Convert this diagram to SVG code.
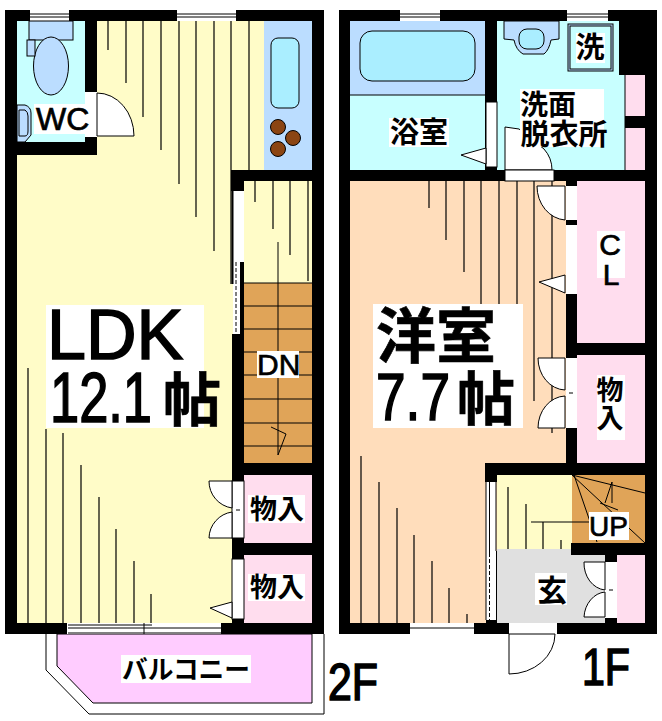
<svg xmlns="http://www.w3.org/2000/svg" width="662" height="721" viewBox="0 0 662 721">
<style>
.w{fill:#000}
.l{stroke:#000;stroke-width:1;fill:none}
.h{stroke:#000;stroke-width:1.2;fill:none}
.d{stroke:#000;stroke-width:1;fill:#fff}
.b{fill:#fff}
.j{font-family:"Noto Sans CJK JP","Liberation Sans",sans-serif;font-weight:700;fill:#000;text-anchor:middle}
.a{font-family:"Liberation Sans",Arial,sans-serif;fill:#000;stroke:#000;stroke-width:.7}
.k{stroke-width:1.6}
.c{font-family:"Noto Sans CJK JP",sans-serif;font-weight:700;font-size:58px;stroke-width:.6}
</style>
<rect width="662" height="721" fill="#fff"/>
<g id="balcony">
<path d="M46,634V670L89,714H324V634" fill="#fff" stroke="#000"/>
<path d="M57,634V666L93,703H312V634Z" fill="#ffccff" stroke="#000"/>
<rect class="b" x="121" y="655" width="130" height="28"/>
<text class="j" x="186" y="679" font-size="26" textLength="128" lengthAdjust="spacingAndGlyphs">バルコニー</text>
</g>
<g id="floor-2f">
<rect x="17" y="21" width="295" height="602" fill="#fffcc8"/>
<rect id="wc-floor" x="17" y="21" width="68" height="121" fill="#c8ffff"/>
<rect id="kitchen" x="264" y="21" width="48" height="149" fill="#bbddff"/>
<rect x="244" y="283" width="68" height="180" fill="#e0a458"/>
<rect x="244" y="475" width="68" height="68" fill="#ffddee"/>
<rect x="244" y="555" width="68" height="68" fill="#ffddee"/>
</g>
<g id="hatch-2f" class="h">
<path d="M108,21V50M126,21V83M143,21V117M161,21V150M179,21V184M196,21V217M214,21V251M231,21V284M249,21V170"/>
<path d="M255,181V202M273,181V229M290,181V255M308,181V281"/>
<path d="M28,368V623M46,429V623M63,433V623M81,465V623M99,497V623M116,529V623M134,561V623M151,594V623"/>
</g>
<g id="stairs-dn" class="l">
<path d="M244,283H312M244,306H312M244,329H312M244,352H312M244,375H312M244,399H312M244,423H312M244,446H312"/>
<path d="M278,242V455L286,434L271,427"/>
</g>
<g id="walls-2f" class="w">
<rect x="5" y="10" width="319" height="11"/>
<rect x="5" y="10" width="12" height="624"/>
<rect x="312" y="10" width="12" height="624"/>
<rect x="5" y="623" width="319" height="11"/>
<rect x="85" y="21" width="12" height="134"/>
<rect x="17" y="142" width="80" height="13"/>
<rect x="231" y="170" width="93" height="11"/>
<rect x="231" y="181" width="13" height="10"/>
<rect x="232" y="334" width="12" height="289"/>
<rect x="232" y="463" width="80" height="12"/>
<rect x="232" y="543" width="80" height="12"/>
</g>
<g id="windows-2f">
<rect class="b" x="30" y="10" width="39" height="11"/>
<path class="l" d="M30,14H69M30,17H69"/>
<rect class="b" x="177" y="10" width="59" height="11"/>
<path class="l" d="M177,14H236M177,17H236"/>
<rect class="b" x="67" y="623" width="154" height="11"/>
<path class="l" d="M68,625H152M68,628H221M68,633H221M144,623V634"/>
</g>
<g id="fixtures-2f">
<rect x="29" y="21" width="44" height="19" fill="#bbddff" stroke="#000"/>
<ellipse cx="51" cy="66" rx="17.500" ry="29" fill="#bbddff" stroke="#000"/>
<rect x="27" y="40" width="8" height="16" fill="#bbddff" stroke="#000"/>
<path d="M17,105H25Q31,107 31,113V135L25,142H17Z" fill="#bbddff" stroke="#000"/>
<path class="l" d="M19,110H25Q28,112 28,116V131Q28,136 25,136H19Z"/>
<rect x="271" y="38" width="28" height="70" rx="7" fill="#aaeeff" stroke="#000"/>
<g fill="#8b4513" stroke="#000"><circle cx="278" cy="127" r="7.500"/><circle cx="293" cy="138" r="7.500"/><circle cx="278" cy="149" r="7.500"/></g>
</g>
<g id="doors-2f">
<rect class="b" x="85" y="92" width="12" height="45"/>
<path class="d" d="M97,93A37,43 0 0 1 134,136H97Z"/>
<rect class="b" x="233" y="191" width="11" height="143"/>
<rect class="w" x="240" y="262" width="4" height="72"/>
<rect class="w" x="231.500" y="181" width="2" height="103"/>
<path d="M236,262V334" fill="none" stroke="#000" stroke-dasharray="4 2"/>
<rect class="d" x="232" y="481" width="12" height="57"/>
<path class="d" d="M209,481H232V508A27,27 0 0 1 209,481Z"/>
<path class="d" d="M209,538H232V512A27,27 0 0 0 209,538Z"/>
<path class="l" d="M236,510H240"/>
<rect class="d" x="232" y="559" width="12" height="60"/>
<path class="d" d="M232,602L210,608L232,618Z"/>
</g>
<g id="labels-2f">
<rect class="b" x="34" y="104" width="53" height="30"/>
<text class="a" x="36" y="130" font-size="32">WC</text>
<rect class="b" x="46" y="305" width="158" height="123"/>
<text class="a k" font-size="70"><tspan x="47" y="359">LDK</tspan><tspan x="50" y="422" textLength="102" lengthAdjust="spacingAndGlyphs">12.1</tspan><tspan class="c" x="163" y="421">帖</tspan></text>
<rect class="b" x="257" y="351" width="42" height="27"/>
<text class="a" x="257" y="375" font-size="30">DN</text>
<rect class="b" x="248" y="495" width="57" height="28"/>
<text class="j" x="277" y="519" font-size="27">物入</text>
<rect class="b" x="248" y="574" width="57" height="27"/>
<text class="j" x="277" y="597" font-size="27">物入</text>
<text class="a k" x="328" y="700" font-size="51" textLength="50" lengthAdjust="spacingAndGlyphs">2F</text>
</g>
<g id="floor-1f">
<rect x="350" y="181" width="216" height="442" fill="#ffddbb"/>
<rect id="bath-floor" x="350" y="95" width="135" height="75" fill="#c8ffff"/>
<rect id="bath-tub-area" x="350" y="21" width="135" height="74" fill="#bbddff"/>
<rect id="wash-floor" x="497" y="21" width="128" height="149" fill="#c8ffff"/>
<rect x="625" y="75" width="20" height="95" fill="#ffddee"/>
<rect x="577" y="181" width="68" height="162" fill="#ffddee"/>
<rect x="577" y="355" width="68" height="108" fill="#ffddee"/>
<rect x="497" y="475" width="75" height="74" fill="#fffcc8"/>
<rect x="572" y="475" width="73" height="68" fill="#e0a458"/>
<rect x="497" y="549" width="108" height="74" fill="#e0e0e0"/>
<rect x="617" y="555" width="28" height="68" fill="#ffddee"/>
</g>
<g id="hatch-1f" class="h">
<path d="M429,181V208M446,181V240M464,181V272M481,181V304M499,181V330M517,181V330M534,181V401M552,181V433"/>
<path d="M361,456V623M379,482V623M397,508V623M414,535V623M432,561V623M449,588V623M467,614V623"/>
<path d="M508,487V549M526,504V549M543,522V549M561,540V549M531,522H590"/>
</g>
<g id="stairs-up" class="l">
<path d="M572,475L645,493M572,475L645,543M574,475L597,542M612,482V503M605,503L612,482M600,503L618,510"/>
</g>
<g id="walls-1f" class="w">
<rect x="339" y="10" width="318" height="11"/>
<rect x="339" y="10" width="11" height="624"/>
<rect x="645" y="10" width="12" height="624"/>
<rect x="339" y="623" width="318" height="11"/>
<rect x="485" y="21" width="12" height="149"/>
<rect x="350" y="170" width="307" height="11"/>
<rect x="619" y="21" width="38" height="54"/>
<rect x="625" y="116" width="32" height="12"/>
<rect x="566" y="181" width="11" height="294"/>
<rect x="577" y="343" width="80" height="12"/>
<rect x="485" y="463" width="172" height="12"/>
<rect x="485" y="475" width="12" height="7"/>
<rect x="571" y="543" width="86" height="12"/>
<rect x="605" y="555" width="12" height="68"/>
<rect x="493" y="551" width="4" height="72"/>
<rect x="486" y="620" width="11" height="3"/>
</g>
<g id="windows-1f">
<rect class="b" x="400" y="10" width="40" height="11"/>
<path class="l" d="M400,14H440M400,17H440"/>
<rect class="b" x="567" y="10" width="41" height="11"/>
<path class="l" d="M567,14H608M567,17H608"/>
<rect class="b" x="410" y="623" width="64" height="11"/>
<path class="l" d="M410,628H474"/>
</g>
<g id="fixtures-1f">
<path class="l" d="M350,95H485"/>
<rect x="360" y="31" width="115" height="50" rx="12" fill="#aaeeff" stroke="#000"/>
<path d="M504,21V39L514,40Q516,50 523,54H544Q549,50 551,40L559,39V21Z" fill="#bbddff" stroke="#000"/>
<rect x="519" y="29" width="25" height="20" rx="8" fill="#aaeeff" stroke="#000"/>
<rect x="568" y="24" width="45" height="47" fill="#bbddff" stroke="#000"/>
<rect x="570" y="26" width="41" height="43" fill="#c8ffff" stroke="#000"/>
<path class="l" d="M625,75V170"/>
</g>
<g id="doors-1f">
<rect class="d" x="486" y="102" width="11" height="65"/>
<path class="d" d="M486,148L461,155L486,164Z"/>
<path class="d" d="M505,170V127L519,129L544,149Q552,158 552,170Z"/>
<rect class="d" x="505" y="170" width="49" height="11"/>
<rect class="b" x="566" y="186" width="11" height="34"/>
<rect class="b" x="566" y="225" width="11" height="69"/>
<path class="d" d="M537,186H565V220A30,34 0 0 1 537,186Z"/>
<path class="d" d="M565,275L539,282L565,293Z"/>
<rect class="b" x="566" y="358" width="11" height="70"/>
<path class="d" d="M538,358H565V390A28,32 0 0 1 538,358Z"/>
<path class="d" d="M538,428H565V396A28,32 0 0 0 538,428Z"/>
<path class="l" d="M569,393H573"/>
<rect class="b" x="486" y="482" width="10" height="138"/>
<path class="l" d="M486,482V620M496,482V551M489.500,482V553"/>
<path d="M489.500,553V620" stroke="#000" fill="none" stroke-dasharray="4 2"/>
<rect class="b" x="605" y="562" width="12" height="56"/>
<path class="d" d="M584,562H605V590A23,27 0 0 1 584,562Z"/>
<path class="d" d="M584,617H605V592A23,27 0 0 0 584,617Z"/>
<path class="l" d="M609,590H613"/>
<rect class="b" x="509" y="623" width="48" height="11"/>
<path class="d" d="M509,634V674A46,40 0 0 0 555,634Z"/>
</g>
<g id="labels-1f">
<rect class="b" x="389" y="118" width="60" height="29"/>
<text class="j" x="419" y="143" font-size="29">浴室</text>
<rect class="b" x="576" y="33" width="29" height="30"/>
<text class="j" x="590" y="58" font-size="29">洗</text>
<rect class="b" x="520" y="89" width="84" height="58"/>
<text class="j" font-size="28"><tspan x="548" y="115">洗面</tspan><tspan x="564" y="145" font-size="29">脱衣所</tspan></text>
<rect class="b" x="373" y="304" width="150" height="124"/>
<text class="a" font-size="67"><tspan class="c" style="font-size:60px" x="376" y="358" stroke-width="0">洋室</tspan><tspan class="k" x="376" y="420" textLength="74" lengthAdjust="spacingAndGlyphs">7.7</tspan><tspan class="c" x="457" y="420">帖</tspan></text>
<rect class="b" x="597" y="231" width="28" height="47"/>
<text class="a" font-size="30" text-anchor="middle"><tspan x="610" y="255">C</tspan><tspan x="611" y="285">L</tspan></text>
<rect class="b" x="597" y="375" width="28" height="65"/>
<text class="j" font-size="27"><tspan x="610" y="400">物</tspan><tspan x="610" y="428">入</tspan></text>
<rect class="b" x="589" y="512" width="40" height="28"/>
<text class="a" x="589" y="536" font-size="28">UP</text>
<rect class="b" x="535" y="573" width="32" height="32"/>
<text class="j" x="552" y="601" font-size="30">玄</text>
<text class="a k" x="582" y="685" font-size="51" textLength="48" lengthAdjust="spacingAndGlyphs">1F</text>
</g>
</svg>
